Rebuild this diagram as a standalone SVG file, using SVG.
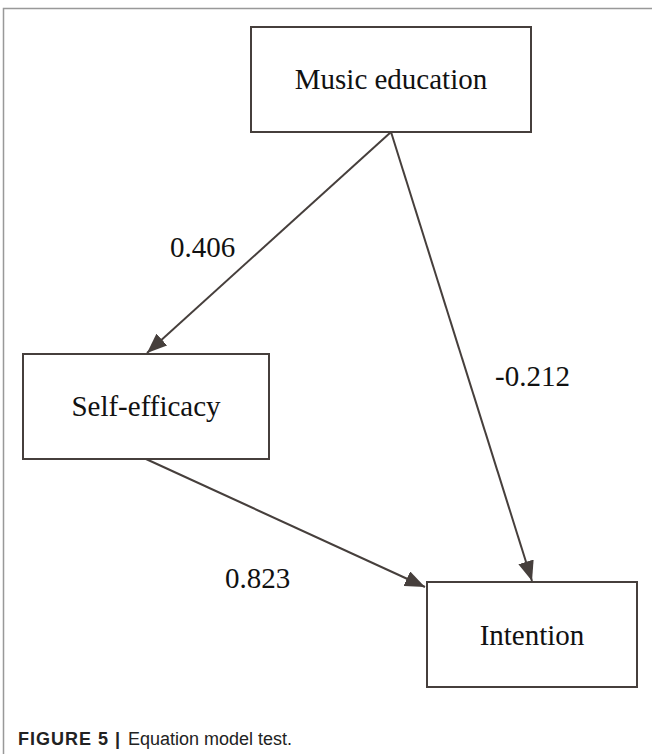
<svg xmlns="http://www.w3.org/2000/svg" width="652" height="754" viewBox="0 0 652 754">
<style>
.box{fill:#fff;stroke:#463f3c;stroke-width:2}
.lbl{font-family:"Liberation Serif","Times New Roman",serif;font-size:29px;fill:#111}
.edge{stroke:#463f3c;stroke-width:2;fill:none}
</style>
<defs>
<marker id="ahb" viewBox="0 0 20 16" refX="20" refY="8" markerWidth="20" markerHeight="16" markerUnits="userSpaceOnUse" orient="auto">
<path d="M0,0 L20,8 L0,16 z" fill="#463f3c"/>
</marker>
</defs>
<rect width="652" height="754" fill="#fff"/>
<path d="M3.5,754 V8.5 H652" fill="none" stroke="#999" stroke-width="1.5"/>
<g id="music">
<rect class="box" x="251" y="27" width="280" height="105"/>
<text class="lbl" x="391" y="89" text-anchor="middle">Music education</text>
</g>
<g id="self">
<rect class="box" x="23" y="354" width="246" height="105"/>
<text class="lbl" x="146" y="416" text-anchor="middle">Self-efficacy</text>
</g>
<g id="intention">
<rect class="box" x="427" y="582" width="210" height="105"/>
<text class="lbl" x="532" y="645" text-anchor="middle">Intention</text>
</g>
<g id="edges">
<line class="edge" x1="391" y1="132" x2="147" y2="353" marker-end="url(#ahb)"/>
<line class="edge" x1="391" y1="132" x2="532" y2="581" marker-end="url(#ahb)"/>
<line class="edge" x1="146" y1="459" x2="425" y2="587" marker-end="url(#ahb)"/>
<text class="lbl" x="225" y="588">0.823</text>
<text class="lbl" x="170" y="257">0.406</text>
<text class="lbl" x="495" y="386">-0.212</text>
</g>
<g font-family="Liberation Sans,Arial,sans-serif" font-size="18" fill="#222">
<text x="18" y="745" font-weight="bold" textLength="90" lengthAdjust="spacing">FIGURE 5</text>
<text x="115" y="745" font-weight="bold">|</text>
<text x="128" y="745" textLength="164" lengthAdjust="spacingAndGlyphs">Equation model test.</text>
</g>
</svg>
